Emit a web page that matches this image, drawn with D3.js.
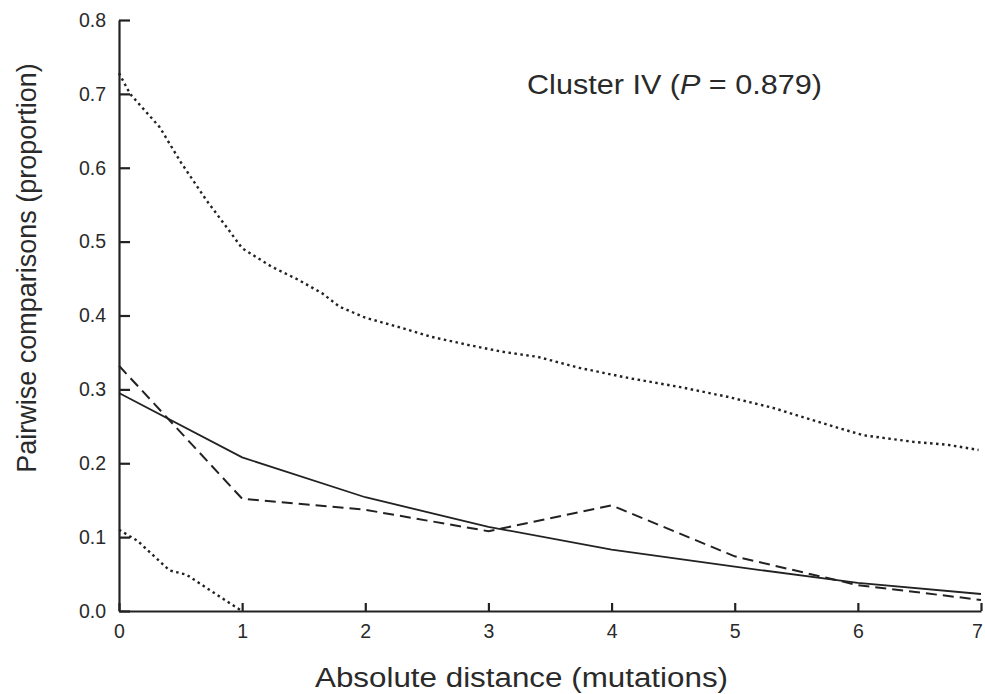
<!DOCTYPE html>
<html>
<head>
<meta charset="utf-8">
<script src="https://cdn.jsdelivr.net/npm/d3@7"></script>
<style>
  html, body { margin: 0; padding: 0; background: #fff; }
  svg { display: block; }
  text { font-family: "Liberation Sans", Arial, sans-serif; fill: #2a2a2a; }
</style>
</head>
<body>
<svg id="chart" width="985" height="694"></svg>
<script>
// ---- Data ----
const xTicks = [0, 1, 2, 3, 4, 5, 6, 7];
const yTicks = [0.0, 0.1, 0.2, 0.3, 0.4, 0.5, 0.6, 0.7, 0.8];

// Expected (fitted) distribution - solid line
const expectedX = [0, 1, 2, 3, 4, 5, 6, 7];
const expectedY = [0.295, 0.208, 0.154, 0.114, 0.083, 0.060, 0.038, 0.023];

// Observed distribution - dashed line
const observedX = [0, 1, 2, 3, 4, 5, 6, 7];
const observedY = [0.332, 0.152, 0.137, 0.108, 0.143, 0.074, 0.035, 0.015];

// Upper confidence envelope - dotted line
const upperX = [0, 0.09, 0.33, 0.5, 0.71, 0.89, 1.0, 1.24, 1.46, 1.65, 1.79, 2.0, 2.3, 2.54, 2.84, 3.11, 3.4, 3.74, 4.15, 4.56, 4.94, 5.31, 5.72, 6.04, 6.45, 6.73, 6.98];
const upperY = [0.728, 0.70, 0.655, 0.608, 0.556, 0.516, 0.491, 0.466, 0.448, 0.43, 0.412, 0.397, 0.383, 0.371, 0.36, 0.351, 0.344, 0.329, 0.315, 0.303, 0.29, 0.275, 0.254, 0.238, 0.229, 0.225, 0.218];

// Lower confidence envelope - dotted line
const lowerX = [0, 0.15, 0.41, 0.55, 0.74, 0.96, 1.0];
const lowerY = [0.110, 0.095, 0.055, 0.049, 0.028, 0.004, 0.0];

const annotationParts = [
  { text: "Cluster IV (", italic: false },
  { text: "P", italic: true },
  { text: " = 0.879)", italic: false }
];
const xTitle = "Absolute distance (mutations)";
const yTitle = "Pairwise comparisons (proportion)";

// ---- Chart ----
const svg = d3.select("#chart");
const margin = { left: 119, right: 4, top: 20, bottom: 83 };
const W = 985, H = 694;
const x = d3.scaleLinear().domain([0, 7]).range([margin.left, W - margin.right]);
const y = d3.scaleLinear().domain([0, 0.8]).range([H - margin.bottom, margin.top]);

const ink = "#222";

// axes
const xAxis = d3.axisBottom(x).tickValues(xTicks).tickFormat(d3.format("d")).tickSizeInner(-8).tickSizeOuter(0).tickPadding(13);
const yAxis = d3.axisLeft(y).tickValues(yTicks).tickFormat(d3.format(".1f")).tickSizeInner(-11).tickSizeOuter(0).tickPadding(13);

const gx = svg.append("g").attr("transform", `translate(0,${y(0)})`).call(xAxis);
const gy = svg.append("g").attr("transform", `translate(${x(0)},0)`).call(yAxis);

[gx, gy].forEach(g => {
  g.attr("font-size", null).attr("font-family", null);
  g.select(".domain").attr("stroke", ink).attr("stroke-width", 2.2);
  g.selectAll(".tick line").attr("stroke", ink).attr("stroke-width", 2.2);
  g.selectAll(".tick text").attr("font-size", 19.5).attr("fill", "#2a2a2a");
});
// keep the last x label inside the frame
gx.selectAll(".tick text").filter(d => d === xTicks[xTicks.length - 1]).attr("dx", -4);

// lines
const line = d3.line().x(d => x(d[0])).y(d => y(d[1]));
function series(xs, ys) { return xs.map((v, i) => [v, ys[i]]); }

svg.append("path").datum(series(upperX, upperY)).attr("d", line)
  .attr("fill", "none").attr("stroke", ink).attr("stroke-width", 2.4)
  .attr("stroke-dasharray", "2.5,3.5");
svg.append("path").datum(series(lowerX, lowerY)).attr("d", line)
  .attr("fill", "none").attr("stroke", ink).attr("stroke-width", 2.4)
  .attr("stroke-dasharray", "2.5,3.5");
svg.append("path").datum(series(observedX, observedY)).attr("d", line)
  .attr("fill", "none").attr("stroke", ink).attr("stroke-width", 2)
  .attr("stroke-dasharray", "11,6");
svg.append("path").datum(series(expectedX, expectedY)).attr("d", line)
  .attr("fill", "none").attr("stroke", ink).attr("stroke-width", 1.8);

// annotation
const ann = svg.append("text").attr("x", 527).attr("y", 94).attr("font-size", 27.5)
  .attr("textLength", 295).attr("lengthAdjust", "spacingAndGlyphs");
annotationParts.forEach(p => {
  ann.append("tspan").text(p.text).attr("font-style", p.italic ? "italic" : "normal");
});

// axis titles
svg.append("text").attr("x", 315).attr("y", 687)
  .attr("font-size", 27).attr("textLength", 413).attr("lengthAdjust", "spacingAndGlyphs")
  .text(xTitle);
svg.append("text").attr("transform", `translate(36,${268}) rotate(-90)`)
  .attr("text-anchor", "middle").attr("font-size", 27).text(yTitle);
</script>
</body>
</html>
